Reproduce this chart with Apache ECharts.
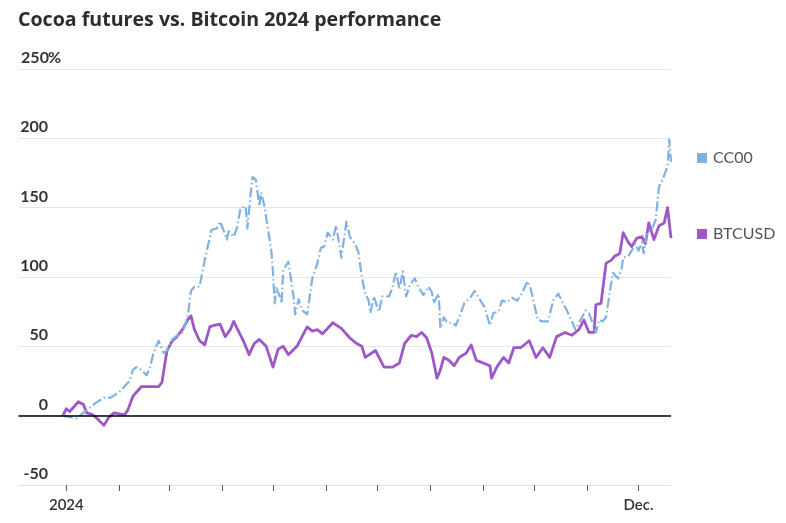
<!DOCTYPE html>
<html>
<head>
<meta charset="utf-8">
<script src="https://cdn.jsdelivr.net/npm/echarts@6/dist/echarts.min.js"></script>
<style>
html,body{margin:0;padding:0;background:#fff;}
#chart{width:786px;height:523px;}
</style>
</head>
<body>
<div id="chart"></div>
<script>
// ---- data ----
const axisStart = '2023-12-04';
const axisEnd = '2024-12-20';
const xTickLabels = { '2024-01-01': '2024', '2024-12-01': 'Dec.' };
const yMin = -50, yMax = 250, yStep = 50;

const ccDates = ['2023-12-30','2024-01-07','2024-01-14','2024-01-18','2024-01-23','2024-01-27','2024-02-01','2024-02-07','2024-02-09','2024-02-11','2024-02-14','2024-02-17','2024-02-19','2024-02-21','2024-02-24','2024-02-27','2024-02-29','2024-03-03','2024-03-05','2024-03-09','2024-03-12','2024-03-14','2024-03-16','2024-03-19','2024-03-22','2024-03-24','2024-03-26','2024-03-29','2024-03-31','2024-04-02','2024-04-04','2024-04-05','2024-04-08','2024-04-10','2024-04-12','2024-04-15','2024-04-16','2024-04-18','2024-04-19','2024-04-21','2024-04-23','2024-04-24','2024-04-26','2024-04-30','2024-05-01','2024-05-02','2024-05-03','2024-05-05','2024-05-06','2024-05-07','2024-05-10','2024-05-11','2024-05-13','2024-05-14','2024-05-16','2024-05-18','2024-05-21','2024-05-24','2024-05-27','2024-05-29','2024-05-31','2024-06-02','2024-06-05','2024-06-07','2024-06-10','2024-06-13','2024-06-15','2024-06-18','2024-06-20','2024-06-22','2024-06-24','2024-06-26','2024-06-27','2024-06-29','2024-07-02','2024-07-04','2024-07-08','2024-07-10','2024-07-12','2024-07-14','2024-07-16','2024-07-18','2024-07-20','2024-07-23','2024-07-25','2024-07-28','2024-07-31','2024-08-02','2024-08-03','2024-08-06','2024-08-07','2024-08-09','2024-08-11','2024-08-14','2024-08-16','2024-08-18','2024-08-21','2024-08-25','2024-08-27','2024-08-30','2024-09-02','2024-09-05','2024-09-07','2024-09-10','2024-09-12','2024-09-15','2024-09-18','2024-09-21','2024-09-24','2024-09-27','2024-09-29','2024-10-03','2024-10-06','2024-10-09','2024-10-12','2024-10-15','2024-10-17','2024-10-20','2024-10-23','2024-10-25','2024-10-28','2024-10-31','2024-11-02','2024-11-04','2024-11-06','2024-11-08','2024-11-10','2024-11-12','2024-11-14','2024-11-16','2024-11-19','2024-11-21','2024-11-22','2024-11-25','2024-11-27','2024-11-29','2024-12-01','2024-12-03','2024-12-04','2024-12-06','2024-12-09','2024-12-11','2024-12-13','2024-12-15','2024-12-18','2024-12-19','2024-12-20'];
const ccValues = [0,-2,5,9,13,13,17,25,33,35,33,29,35,45,54,45,47,55,57,60,71,90,93,93,112,123,134,135,140,134,127,133,129,136,150,151,135,161,172,170,151,161,151,119,103,81,92,86,81,105,111,103,86,73,84,76,73,99,110,121,122,132,127,137,114,140,129,124,118,100,88,83,74,86,75,86,86,93,104,91,104,86,94,99,93,87,93,89,81,88,63,71,67,67,65,71,81,86,90,84,78,65,74,75,83,82,85,83,89,97,91,69,68,68,83,88,83,76,68,62,69,76,74,67,60,69,68,71,88,103,99,105,114,115,119,124,119,125,117,132,135,141,165,170,180,199,183];

const btcDates = ['2023-12-30','2024-01-01','2024-01-03','2024-01-08','2024-01-11','2024-01-13','2024-01-16','2024-01-19','2024-01-23','2024-01-26','2024-01-29','2024-02-04','2024-02-06','2024-02-09','2024-02-14','2024-02-24','2024-02-26','2024-02-28','2024-02-29','2024-03-03','2024-03-05','2024-03-09','2024-03-12','2024-03-14','2024-03-16','2024-03-19','2024-03-22','2024-03-25','2024-03-27','2024-03-31','2024-04-03','2024-04-06','2024-04-08','2024-04-10','2024-04-14','2024-04-17','2024-04-20','2024-04-23','2024-04-27','2024-05-01','2024-05-04','2024-05-07','2024-05-10','2024-05-15','2024-05-18','2024-05-21','2024-05-24','2024-05-27','2024-05-30','2024-06-05','2024-06-10','2024-06-15','2024-06-19','2024-06-22','2024-06-24','2024-06-30','2024-07-05','2024-07-10','2024-07-14','2024-07-17','2024-07-21','2024-07-24','2024-07-27','2024-07-30','2024-08-02','2024-08-05','2024-08-07','2024-08-09','2024-08-12','2024-08-15','2024-08-18','2024-08-22','2024-08-25','2024-08-28','2024-08-30','2024-09-05','2024-09-06','2024-09-09','2024-09-13','2024-09-16','2024-09-19','2024-09-23','2024-09-28','2024-10-02','2024-10-06','2024-10-10','2024-10-14','2024-10-19','2024-10-23','2024-10-27','2024-10-30','2024-11-02','2024-11-05','2024-11-06','2024-11-09','2024-11-12','2024-11-15','2024-11-17','2024-11-20','2024-11-22','2024-11-25','2024-11-27','2024-11-30','2024-12-03','2024-12-05','2024-12-07','2024-12-10','2024-12-13','2024-12-16','2024-12-18','2024-12-20'];
const btcValues = [0,5,3,10,8,2,1,-2,-7,-1,2,0.5,4,14,21,21,24,40,47,54,56,62,69,72,62,54,51,64,65,66,57,62,68,63,53,44,52,55,50,35,48,50,44,50,57,64,61,62,59,67,63,56,52,50,42,47,35,35,38,52,58,57,60,56,45,27,33,42,40,36,42,45,51,40,39,36,27,35,42,38,49,49,54,42,49,42,57,60,58,62,69,60,60,80,81,110,112,115,117,132,125,122,128,129,124,139,127,137,139,150,128];

// ---- build ----
function dayList(s, e) {
  const out = [];
  let t = Date.parse(s + 'T00:00:00Z');
  const end = Date.parse(e + 'T00:00:00Z');
  while (t <= end) { out.push(new Date(t).toISOString().slice(0, 10)); t += 86400000; }
  return out;
}
const categories = dayList(axisStart, axisEnd);
function toSeries(dates, values) {
  const m = {};
  dates.forEach((d, i) => { m[d] = values[i]; });
  return categories.map(c => (c in m ? m[c] : null));
}

const yLabelStyle = { fontFamily: 'Lato', fontSize: 16, fontWeight: 'bold', color: '#333' };

const chart = echarts.init(document.getElementById('chart'), null, { renderer: 'canvas' });
chart.setOption({
  animation: false,
  backgroundColor: '#fff',
  title: {
    text: 'Cocoa futures vs. Bitcoin 2024 performance',
    left: 18, top: 10, padding: 0,
    textStyle: { fontFamily: 'Open Sans', fontWeight: 'bold', fontSize: 19.6, color: '#2d2d2d' }
  },
  legend: {
    data: ['CC00', 'BTCUSD'],
    orient: 'vertical',
    left: 692, top: 145,
    itemWidth: 10, itemHeight: 10, itemGap: 60,
    icon: 'rect',
    textStyle: { fontFamily: 'Lato', fontSize: 16, color: '#555', lineHeight: 16, padding: [0, 0, 0, 1] }
  },
  grid: { left: 18.5, right: 115, top: 69, bottom: 38, containLabel: false },
  xAxis: {
    type: 'category',
    data: categories,
    boundaryGap: false,
    axisLine: { show: true, onZero: false, lineStyle: { color: '#e3e3e3', width: 1 } },
    axisTick: {
      show: true, length: 6,
      interval: (i, v) => v.slice(8) === '01',
      lineStyle: { color: '#555', width: 1 }
    },
    axisLabel: {
      interval: (i, v) => v in xTickLabels,
      formatter: v => xTickLabels[v] || '',
      margin: 13,
      fontFamily: 'Lato', fontSize: 15, fontWeight: 600, color: '#333'
    },
    splitLine: { show: false }
  },
  yAxis: {
    type: 'value',
    min: yMin, max: yMax, interval: yStep,
    axisLine: { show: false },
    axisTick: { show: false },
    splitLine: { show: true, lineStyle: { color: '#e6e6e6', width: 1 } },
    axisLabel: {
      inside: true,
      align: 'left',
      verticalAlign: 'bottom',
      margin: 3.5,
      padding: [0, 0, 3, 0],
      formatter: v => (v === yMax ? '{n|' + v + '}{p|%}' : '{n|' + v + '}'),
      rich: {
        n: Object.assign({ width: 26, align: 'right' }, yLabelStyle),
        p: Object.assign({ align: 'left' }, yLabelStyle)
      },
      fontFamily: 'Lato', fontSize: 16, fontWeight: 'bold', color: '#333'
    }
  },
  series: [
    {
      name: 'BTCUSD',
      type: 'line',
      data: toSeries(btcDates, btcValues),
      connectNulls: true,
      showSymbol: false,
      symbol: 'none',
      color: '#9d58c6',
      lineStyle: { width: 2.8, color: '#9d58c6', join: 'round' },
      markLine: {
        silent: true,
        symbol: ['none', 'none'],
        label: { show: false },
        lineStyle: { color: '#000', width: 1.6, type: 'solid' },
        data: [{ yAxis: 0 }]
      },
      z: 2
    },
    {
      name: 'CC00',
      type: 'line',
      data: toSeries(ccDates, ccValues),
      connectNulls: true,
      showSymbol: false,
      symbol: 'none',
      color: '#7fb2e2',
      lineStyle: { width: 2.2, color: '#7fb2e2', type: [10, 3, 1.5, 3], cap: 'butt', join: 'round' },
      z: 3
    }
  ]
});
</script>
</body>
</html>
